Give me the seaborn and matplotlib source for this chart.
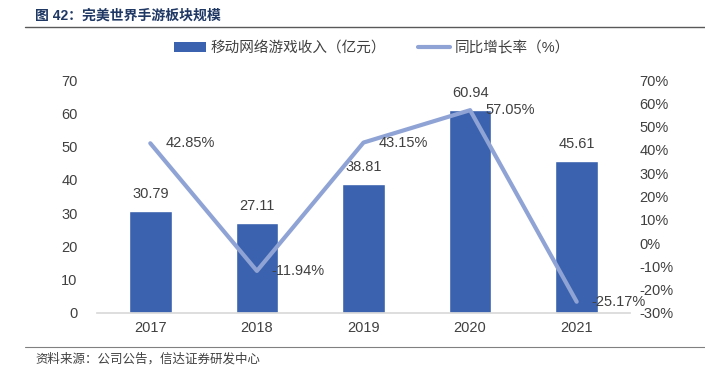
import matplotlib
matplotlib.use("Agg")
import matplotlib.pyplot as plt
import seaborn as sns
import pandas as pd
from matplotlib.lines import Line2D
from matplotlib.patches import Patch

years = ["2017", "2018", "2019", "2020", "2021"]
revenue = [30.79, 27.11, 38.81, 60.94, 45.61]
growth = [42.85, -11.94, 43.15, 57.05, -25.17]
left_ticks = [0, 10, 20, 30, 40, 50, 60, 70]
right_ticks = [-30, -20, -10, 0, 10, 20, 30, 40, 50, 60, 70]

sns.set_theme(style="white")
plt.rcParams['font.family'] = ['Liberation Sans', 'Noto Sans CJK SC', 'DejaVu Sans']

bar_color = "#3A62AE"
line_color = "#8FA3D5"
text_color = "#404040"

df = pd.DataFrame({"year": years, "revenue": revenue, "growth": growth})

fig = plt.figure(figsize=(7.05, 3.75), dpi=100)
ax = fig.add_axes([97/705, 1-313/375, 533/705, 233/375])
sns.barplot(data=df, x="year", y="revenue", color=bar_color, width=0.4,
            saturation=1, ax=ax)
ax.set_xlim(-0.5, 4.5)
ax.set_ylim(0, 70)
ax.set_yticks(left_ticks)
ax.set_xlabel("")
ax.set_ylabel("")
for s in ["top", "right", "left"]:
    ax.spines[s].set_visible(False)
ax.spines["bottom"].set_color("#D9D9D9")
ax.tick_params(axis="y", length=0, labelsize=10.5, labelcolor=text_color, pad=14)
ax.tick_params(axis="x", length=0, labelsize=10.5, labelcolor=text_color, pad=6)
for i, v in enumerate(revenue):
    ax.text(i, v + 3, f"{v:.2f}", ha="center", va="bottom", fontsize=10.5, color=text_color)

ax2 = ax.twinx()
sns.lineplot(x=list(range(len(years))), y=growth, color=line_color, linewidth=3, ax=ax2)
ax2.set_ylim(-30, 70)
ax2.set_yticks(right_ticks)
ax2.set_yticklabels([f"{t}%" for t in right_ticks])
for s in ["top", "right", "left", "bottom"]:
    ax2.spines[s].set_visible(False)
ax2.tick_params(axis="y", length=0, labelsize=10.5, labelcolor=text_color, pad=7)
ax2.set_xlim(-0.5, 4.5)
for i, v in enumerate(growth):
    ax2.text(i + 0.14, v, f"{v:.2f}%", ha="left", va="center", fontsize=10.5, color=text_color)

handles = [Patch(facecolor=bar_color, edgecolor="none"),
           Line2D([0], [0], color=line_color, linewidth=3)]
fig.legend(handles, ["移动网络游戏收入（亿元）", "同比增长率（%）"], loc="center",
           bbox_to_anchor=(372/705, 1-48/375), ncol=2, frameon=False, fontsize=10.5,
           handlelength=2.2, columnspacing=2.2, handletextpad=0.3,
           labelcolor=text_color)

fig.text(35/705, 1-16/375, "图 42：完美世界手游板块规模", fontsize=10, fontweight="bold",
         color="#1F3864", ha="left", va="center")
fig.add_artist(Line2D([25/705, 1.0], [1-27/375, 1-27/375], color="#595959", linewidth=1))
fig.add_artist(Line2D([25/705, 1.0], [1-347/375, 1-347/375], color="#808080", linewidth=0.8))
fig.text(35/705, 1-359/375, "资料来源：公司公告，信达证券研发中心", fontsize=9, style="italic",
         color="#404040", ha="left", va="center")

fig.savefig("out.png", dpi=100)
